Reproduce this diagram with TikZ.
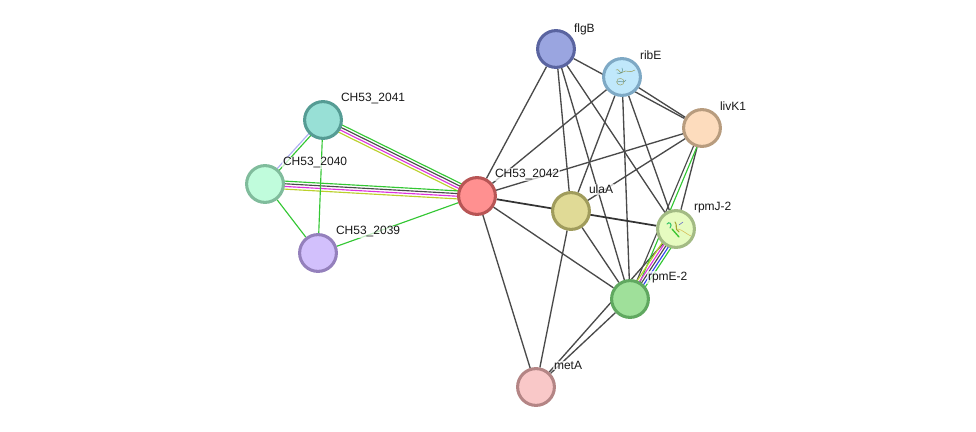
\documentclass[tikz,border=0pt]{standalone}
\usepackage{fontspec}
\setmainfont{Liberation Sans}
\usetikzlibrary{calc}
\pgfdeclarelayer{edges}
\pgfsetlayers{edges,main}
\definecolor{linkdark}{HTML}{4A4A4A}
\definecolor{linkgreen}{HTML}{33C733}
\definecolor{linkpink}{HTML}{DD33DD}
\definecolor{linkolive}{HTML}{BBD02C}
\definecolor{linkblue}{HTML}{3344EE}
\definecolor{linklav}{HTML}{AFAFF5}
% Fill and rim of each protein disc
\definecolor{flgBf}{HTML}{9AA5E0}\definecolor{flgBr}{HTML}{5A64A0}
\definecolor{ribEf}{HTML}{C0E8FB}\definecolor{ribEr}{HTML}{7EA9C5}
\definecolor{livKf}{HTML}{FDDCBD}\definecolor{livKr}{HTML}{B89C7E}
\definecolor{rpmJf}{HTML}{E6FBC0}\definecolor{rpmJr}{HTML}{A3BB84}
\definecolor{rpmEf}{HTML}{9FE09A}\definecolor{rpmEr}{HTML}{60A860}
\definecolor{metAf}{HTML}{F9C8C8}\definecolor{metAr}{HTML}{B48585}
\definecolor{ulaAf}{HTML}{E0DA96}\definecolor{ulaAr}{HTML}{A09C5C}
\definecolor{cfortytwof}{HTML}{FF9090}\definecolor{cfortytwor}{HTML}{B85555}
\definecolor{cfortyonef}{HTML}{98E0D6}\definecolor{cfortyoner}{HTML}{559C94}
\definecolor{cfortyf}{HTML}{C0FCDC}\definecolor{cfortyr}{HTML}{80BC9C}
\definecolor{cthirtyninef}{HTML}{D2C0FC}\definecolor{cthirtyniner}{HTML}{9480BC}
\tikzset{
  protein/.style={circle,draw=#1r,fill=#1f,line width=2.3pt,minimum size=27.6pt,inner sep=0pt},
  plabel/.style={anchor=west,font=\fontsize{9}{10}\selectfont,text=black!90,fill=white,fill opacity=0.7,text opacity=1,inner sep=0.6pt},
  link/.style={line width=1pt,draw=linkdark},
  strandline/.style={line width=0.85pt},
  fold/.style={line width=0.4pt,line cap=round,opacity=0.75}
}
% One line of a bundle, displaced sideways by #4 from the centre line
\newcommand{\strand}[4]{\draw[strandline,draw=#3] ($(#1.center)!#4pt!90:(#2.center)$) -- ($(#2.center)!#4pt!-90:(#1.center)$);}
\begin{document}
\begin{tikzpicture}[x=0.75pt,y=-0.75pt]
\useasboundingbox (0,0) rectangle (976,432);

% Proteins
\node[protein=flgB] (flgB) at (556,49) {};
\node[protein=ribE] (ribE) at (622,77) {};
\node[protein=livK] (livK) at (702,128) {};
\node[protein=rpmJ] (rpmJ) at (676,229) {};
\node[protein=rpmE] (rpmE) at (630,299) {};
\node[protein=metA] (metA) at (536,387) {};
\node[protein=ulaA] (ulaA) at (571,211) {};
\node[protein=cfortytwo] (c42) at (477,196) {};
\node[protein=cfortyone] (c41) at (323,120) {};
\node[protein=cforty] (c40) at (265,184) {};
\node[protein=cthirtynine] (c39) at (318,253) {};

% Links
\begin{pgfonlayer}{edges}
  \fill[white] (0,0) rectangle (976,432);
  \foreach \a/\b in {flgB/livK,flgB/c42,flgB/ulaA,flgB/rpmE,flgB/rpmJ,
                     ribE/livK,ribE/c42,ribE/ulaA,ribE/rpmE,ribE/rpmJ,
                     livK/c42,livK/ulaA,livK/rpmJ,
                     c42/rpmE,c42/metA,
                     ulaA/rpmE,ulaA/metA,
                     rpmJ/metA,rpmE/metA}
    {\draw[link] (\a) -- (\b);}
  \draw[link,line width=1.3pt,draw=black!80] (c42) -- (rpmJ);
  \strand{livK}{rpmE}{linkgreen}{2}
  \strand{livK}{rpmE}{linkdark}{-0.6}
  \foreach \a in {c41,c40}{
    \strand{\a}{c42}{linkgreen}{3}
    \strand{\a}{c42}{linkdark}{1}
    \strand{\a}{c42}{linkpink}{-1}
    \strand{\a}{c42}{linkolive}{-3}
  }
  \strand{c41}{c40}{linkgreen}{1}
  \strand{c41}{c40}{linklav}{-1}
  \foreach \a/\b in {c41/c39,c40/c39,c39/c42}
    {\draw[strandline,draw=linkgreen] (\a) -- (\b);}
  \strand{rpmJ}{rpmE}{linkolive}{-3}
  \strand{rpmJ}{rpmE}{linkpink}{-1.2}
  \strand{rpmJ}{rpmE}{linkdark}{0.6}
  \strand{rpmJ}{rpmE}{linkblue}{2.6}
  \strand{rpmJ}{rpmE}{linkgreen}{4.6}
\end{pgfonlayer}

% Structure sketch inside ribE
\draw[fold,draw=olive!70!gray] (616,70) .. controls (619,67) and (620,76) .. (623,72) .. controls (626,69) and (630,74) .. (635,70);
\draw[fold,draw=teal!50!gray] (617,73) .. controls (621,75) and (624,71) .. (622,68);
\draw[fold,draw=olive!60!gray] (618,79) .. controls (614,83) and (620,87) .. (623,84) .. controls (626,81) and (622,77) .. (618,79);
\draw[fold,draw=teal!40!gray] (617,82) .. controls (620,80) and (624,84) .. (626,80);

% Structure sketch inside rpmJ
\draw[fold,draw=teal!60!green,line width=0.8pt] (667,224) .. controls (669,221) and (673,224) .. (670,228);
\draw[fold,draw=green!70!black,line width=1pt] (672,229) -- (679,237);
\draw[fold,draw=olive,line width=0.8pt] (675,222) .. controls (678,225) and (674,229) .. (679,232);
\draw[fold,draw=blue!60!gray] (679,225) -- (683,222);
\draw[fold,draw=brown!70!yellow] (678,229) .. controls (683,230) and (686,234) .. (691,236);

% Labels
\node[plabel] (tflgB) at (573,29) {flgB};
\node[plabel] (tribE) at (639,55.5) {ribE};
\node[plabel] (tlivK) at (719,106.5) {livK1};
\node[plabel] (trpmJ) at (693,207.5) {rpmJ-2};
\node[plabel] (trpmE) at (647,277.5) {rpmE-2};
\node[plabel] (tmetA) at (553,365.5) {metA};
\node[plabel] (tulaA) at (588,189.5) {ulaA};
\node[plabel] (tc42) at (494,174.5) {CH53\_2042};
\node[plabel] (tc41) at (340,99) {CH53\_2041};
\node[plabel] (tc40) at (282,163) {CH53\_2040};
\node[plabel] (tc39) at (335,232) {CH53\_2039};
\end{tikzpicture}
\end{document}
